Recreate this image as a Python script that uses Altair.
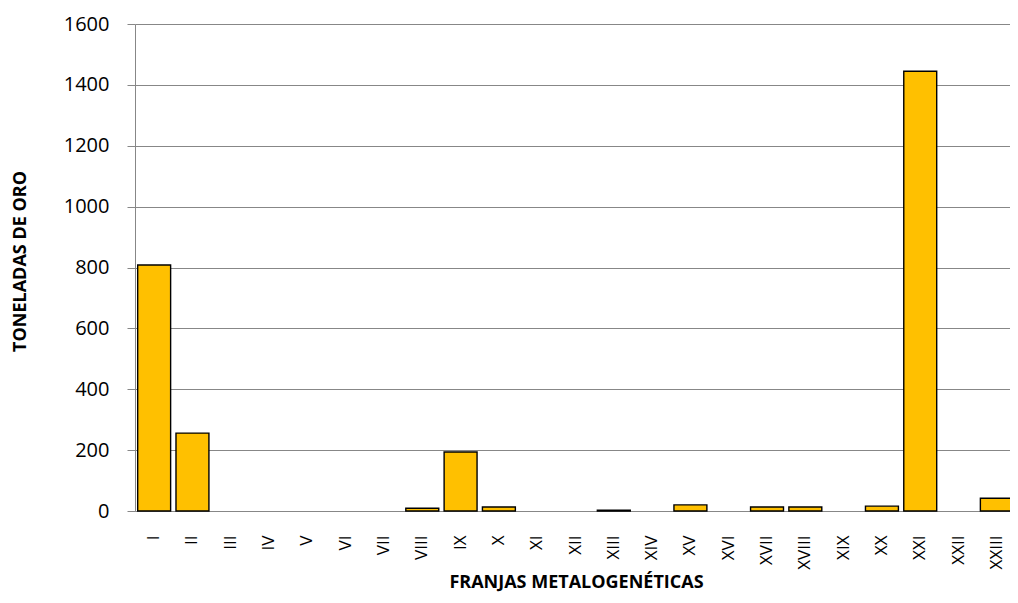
import altair as alt
import pandas as pd

categories = ["I", "II", "III", "IV", "V", "VI", "VII", "VIII", "IX", "X", "XI", "XII",
              "XIII", "XIV", "XV", "XVI", "XVII", "XVIII", "XIX", "XX", "XXI", "XXII", "XXIII"]
toneladas = [808, 256, 0, 0, 0, 0, 0, 9, 194, 13, 0, 0,
             3, 0, 20, 0, 13, 13, 0, 16, 1445, 0, 42]
y_ticks = [0, 200, 400, 600, 800, 1000, 1200, 1400, 1600]

df = pd.DataFrame({"franja": categories, "ton": toneladas})

FONT = "Open Sans"
GRID = "#878787"

chart = alt.Chart(df).mark_bar(
    color="#FFC000", stroke="black", strokeWidth=1.4
).encode(
    x=alt.X("franja:N", sort=categories,
            scale=alt.Scale(paddingInner=0.14, paddingOuter=0.07, range=[0, 881]),
            axis=alt.Axis(title="FRANJAS METALOGENÉTICAS", labelAngle=-90,
                          labelFont=FONT, labelFontSize=17, labelColor="black",
                          labelPadding=24, ticks=False, domainColor=GRID,
                          titleFont=FONT, titleFontSize=18, titleFontWeight="bold",
                          titleColor="black", titleBaseline="middle", titleY=71,
                          titleX=441)),
    y=alt.Y("ton:Q", scale=alt.Scale(domain=[0, 1600], nice=False),
            axis=alt.Axis(title="TONELADAS DE ORO", values=y_ticks, format="d",
                          labelFont=FONT, labelFontSize=20, labelColor="black",
                          labelPadding=18, tickSize=8, tickColor=GRID,
                          domainColor=GRID, gridColor=GRID, grid=True,
                          titleFont=FONT, titleFontSize=18, titleFontWeight="bold",
                          titleColor="black", titleBaseline="middle",
                          titleX=-115, titleY=237, titleAngle=-90)),
    strokeOpacity=alt.condition("datum.ton > 0", alt.value(1), alt.value(0)),
).properties(
    width=875, height=487,
    autosize=alt.AutoSizeParams(type="none"),
    padding={"left": 127, "top": 16, "right": 0, "bottom": 84},
).configure_view(stroke=None)

chart.save("out.html", embed_options={"renderer": "svg", "actions": False})
